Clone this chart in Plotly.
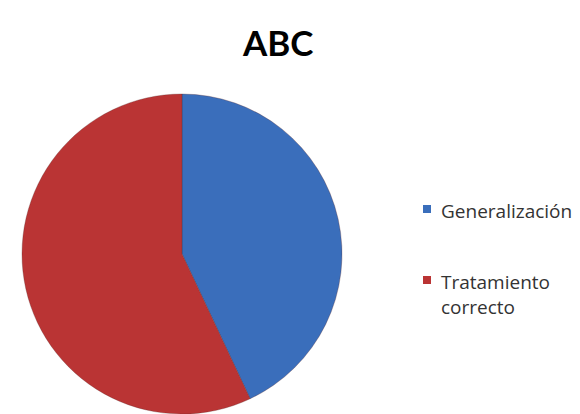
import plotly.graph_objects as go

title_text = "ABC"
labels = ["Generalización", "Tratamiento correcto"]
legend_labels = ["Generalización", "Tratamiento<br>correcto"]
values = [43, 57]
colors = ["#3A6EBB", "#BA3434"]

W, H = 580, 414

fig = go.Figure()
fig.add_trace(go.Pie(
    labels=labels,
    values=values,
    sort=False,
    direction="clockwise",
    rotation=0,
    marker=dict(colors=colors, line=dict(width=0.6, color="rgba(90,40,40,0.5)")),
    textinfo="none",
    hoverinfo="label+percent",
    showlegend=False,
    domain=dict(x=[14 / W, 334 / W], y=[1 - 406 / H, 1 - 86 / H]),
))

# manual legend, built from the labels/colors lists
legend_x_sq = 419
legend_y = [201, 272]
sq = 8
shapes = []
annotations = []
for lab, col, yc in zip(legend_labels, colors, legend_y):
    shapes.append(dict(
        type="rect", xref="paper", yref="paper",
        x0=(legend_x_sq - sq / 2) / W, x1=(legend_x_sq + sq / 2) / W,
        y0=1 - (yc + sq / 2) / H, y1=1 - (yc - sq / 2) / H,
        fillcolor=col, line=dict(width=0),
    ))
    annotations.append(dict(
        text=lab, xref="paper", yref="paper",
        x=431 / W, y=1 - (yc - 13.5) / H,
        xanchor="left", yanchor="top", align="left",
        showarrow=False,
        font=dict(family="Open Sans", size=19, color="#333333"),
    ))

annotations.append(dict(
    text="<b>" + title_text + "</b>", xref="paper", yref="paper",
    x=270 / W, y=1 - 34 / H, xanchor="center", yanchor="middle",
    showarrow=False,
    font=dict(family="Lato", size=35, color="#000000"),
))

fig.update_layout(
    width=W, height=H,
    margin=dict(l=0, r=0, t=0, b=0),
    paper_bgcolor="white",
    plot_bgcolor="white",
    shapes=shapes,
    annotations=annotations,
)

fig.write_html("out.html")
